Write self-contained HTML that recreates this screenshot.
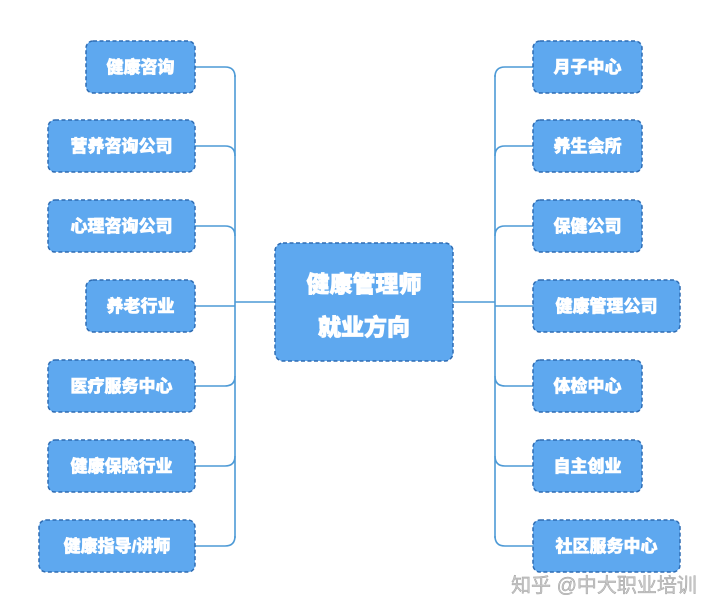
<!DOCTYPE html>
<html><head><meta charset="utf-8"><style>
html,body{margin:0;padding:0;background:#fff;width:720px;height:613px;overflow:hidden}
svg text{font-family:"Liberation Sans","Noto Sans CJK SC",sans-serif;font-weight:900}
</style></head><body>
<svg width="720" height="613" viewBox="0 0 720 613" xmlns="http://www.w3.org/2000/svg">
<g fill="none" stroke="#4d9ad6" stroke-width="1.6">
<path d="M235 75 V538"/>
<path d="M195 67 H225 Q235 67 235 77"/>
<path d="M195 146 H225 Q235 146 235 156"/>
<path d="M195 226 H225 Q235 226 235 236"/>
<path d="M195 306 H235"/>
<path d="M195 386 H225 Q235 386 235 376"/>
<path d="M195 466 H225 Q235 466 235 456"/>
<path d="M195 546 H225 Q235 546 235 536"/>
<path d="M235 302 H275"/>
<path d="M495 75 V538"/>
<path d="M533 67 H505 Q495 67 495 77"/>
<path d="M533 146 H505 Q495 146 495 156"/>
<path d="M533 226 H505 Q495 226 495 236"/>
<path d="M533 306 H495"/>
<path d="M533 386 H505 Q495 386 495 376"/>
<path d="M533 466 H505 Q495 466 495 456"/>
<path d="M533 546 H505 Q495 546 495 536"/>
<path d="M453 302 H495"/>
</g>
<g fill="#5ea8ef" stroke="#2e6cb3" stroke-width="1.5" stroke-dasharray="4,2.5">
<rect x="86" y="41" width="109" height="52" rx="7"/>
<rect x="48" y="120" width="147" height="52" rx="7"/>
<rect x="48" y="200" width="147" height="52" rx="7"/>
<rect x="86" y="280" width="109" height="52" rx="7"/>
<rect x="48" y="360" width="147" height="52" rx="7"/>
<rect x="48" y="440" width="147" height="52" rx="7"/>
<rect x="39" y="520" width="156" height="52" rx="7"/>
<rect x="533" y="41" width="109" height="52" rx="7"/>
<rect x="533" y="120" width="109" height="52" rx="7"/>
<rect x="533" y="200" width="109" height="52" rx="7"/>
<rect x="533" y="280" width="147" height="52" rx="7"/>
<rect x="533" y="360" width="109" height="52" rx="7"/>
<rect x="533" y="440" width="109" height="52" rx="7"/>
<rect x="533" y="520" width="147" height="52" rx="7"/>
<rect x="275" y="243" width="178" height="118" rx="8"/>
</g>
<g fill="#fff" stroke="#fff" stroke-width="0.6" font-size="17" text-anchor="middle">
<text x="140.5" y="73">健康咨询</text>
<text x="121.5" y="152">营养咨询公司</text>
<text x="121.5" y="232">心理咨询公司</text>
<text x="140.5" y="312">养老行业</text>
<text x="121.5" y="392">医疗服务中心</text>
<text x="121.5" y="472">健康保险行业</text>
<text x="117" y="552">健康指导/讲师</text>
<text x="587.5" y="73">月子中心</text>
<text x="587.5" y="152">养生会所</text>
<text x="587.5" y="232">保健公司</text>
<text x="606.5" y="312">健康管理公司</text>
<text x="587.5" y="392">体检中心</text>
<text x="587.5" y="472">自主创业</text>
<text x="606.5" y="552">社区服务中心</text>
<text x="364" y="292" font-size="23" stroke-width="0.8">健康管理师</text>
<text x="364" y="335" font-size="23" stroke-width="0.8">就业方向</text>
</g>
<text x="604" y="592" font-size="20" text-anchor="middle" fill="#c8c8c8" stroke="#9a9a9a" stroke-width="0.4" style="font-weight:normal">知乎 @中大职业培训</text>
</svg>
</body></html>
